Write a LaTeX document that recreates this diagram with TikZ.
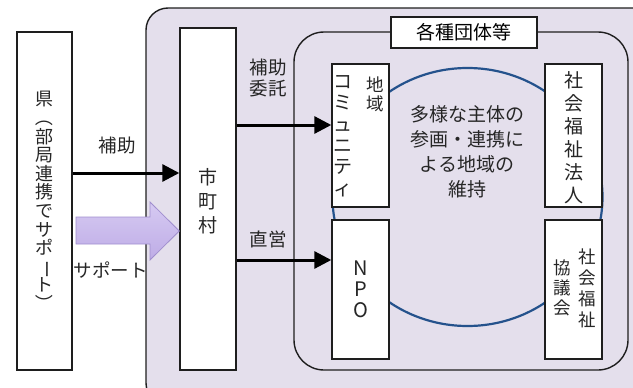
\documentclass[tikz,border=0pt]{standalone}
\usepackage{fontspec}
\setmainfont{Noto Sans CJK JP}
\usetikzlibrary{arrows.meta}
\definecolor{lav}{RGB}{228,223,236}
\definecolor{bord}{RGB}{30,30,30}
\definecolor{ringblue}{RGB}{36,82,140}
\definecolor{arrtop}{RGB}{214,202,242}
\definecolor{arrbot}{RGB}{190,172,230}
\definecolor{arredge}{RGB}{160,142,206}
\newcommand{\vrot}[1]{\smash{\rotatebox[origin=c]{-90}{#1}}}
\tikzset{
  wbox/.style={draw=bord, line width=1.4pt, fill=white, inner sep=0pt},
  vtext/.style={align=center, inner sep=0pt, text=black!85},
  lbl/.style={inner sep=0pt, text=black!85, font=\fontsize{18.5}{24}\selectfont},
  arr/.style={draw=black, line width=3pt, -{Triangle[length=17pt,width=17pt]}},
}
\begin{document}
\begin{tikzpicture}[x=1pt,y=-1pt]
\useasboundingbox (0,0) rectangle (633,388);
% outer group
\draw[bord, line width=1.4pt, fill=lav, rounded corners=22pt] (146,8) rectangle (660,405);
% inner group
\draw[bord, line width=1.4pt, fill=lav, rounded corners=30pt] (294,32) rectangle (628,370);
% ring
\draw[ringblue, line width=2.2pt] (467.5,197) ellipse [x radius=135, y radius=129];
% boxes
\node[wbox, minimum width=55pt, minimum height=338pt] (ken) at (44.5,201) {};
\node[wbox, minimum width=56pt, minimum height=342pt] (shi) at (208,199) {};
\node[wbox, minimum width=146pt, minimum height=31pt, font=\fontsize{19}{22}\selectfont] (title) at (464,32.5) {各種団体等};
\node[wbox, minimum width=57pt, minimum height=143pt] (com) at (360.5,135.5) {};
\node[wbox, minimum width=57pt, minimum height=139pt] (npo) at (360.5,289.5) {};
\node[wbox, minimum width=57pt, minimum height=143pt] (hou) at (573.5,135.5) {};
\node[wbox, minimum width=57pt, minimum height=139pt] (kyo) at (573.5,289.5) {};
% vertical texts
\node[vtext, font=\fontsize{18}{18.6}\selectfont] (kent) at (ken.center) {県\\\vrot{（}\\部\\局\\連\\携\\で\\サ\\ポ\\\vrot{ー}\\ト\\\vrot{）}};
\node[vtext, font=\fontsize{19}{24}\selectfont] (shit) at (208,201) {市\\町\\村};
\node[vtext, font=\fontsize{17.5}{19}\selectfont] (comA) at (375,94) {地\\域};
\node[vtext, font=\fontsize{19}{21.4}\selectfont] (comB) at (343,136) {コ\\ミ\\ュ\\ニ\\テ\\ィ};
\node[vtext, font=\fontsize{20}{21}\selectfont] (npot) at (npo.center) {N\\P\\O};
\node[vtext, font=\fontsize{19}{23}\selectfont] (hout) at (573.5,137.5) {社\\会\\福\\祉\\法\\人};
\node[vtext, font=\fontsize{17.5}{21}\selectfont] (kyoA) at (587,288.5) {社\\会\\福\\祉};
\node[vtext, font=\fontsize{17.5}{20}\selectfont] (kyoB) at (562,288) {協\\議\\会};
% center text
\node[vtext, font=\fontsize{19}{25}\selectfont] (core) at (467,152) {多様な主体の\\参画・連携に\\よる地域の\\維持};
% arrows
\coordinate (yA) at (0,173);
\coordinate (yB) at (0,125);
\coordinate (yC) at (0,260);
\coordinate (yD) at (0,231);
\draw[arr] (ken.east |- yA) -- (shi.west |- yA);
\draw[arr] (shi.east |- yB) -- (com.west |- yB);
\draw[arr] (shi.east |- yC) -- (npo.west |- yC);
\node[lbl] (lhojo) at (117,145) {補助};
\node[lbl, align=center, font=\fontsize{18.5}{21}\selectfont] (litaku) at (268,78) {補助\\委託};
\node[lbl] (lchoku) at (268,239) {直営};
% block arrow
\draw[draw=arredge, line width=0.8pt, top color=arrtop, bottom color=arrbot]
  (76,217) -- (150,217) -- (150,202) -- (shi.west |- yD) -- (150,260) -- (150,244) -- (76,244) -- cycle;
\node[lbl] (lsup) at (111,270) {サポート};
\end{tikzpicture}
\end{document}
